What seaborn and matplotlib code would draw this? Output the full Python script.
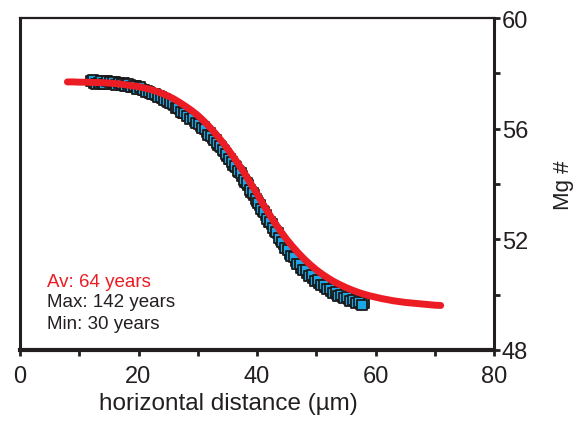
import matplotlib
matplotlib.use("Agg")
import matplotlib.pyplot as plt
import seaborn as sns
import pandas as pd
from matplotlib.ticker import MultipleLocator

# ---- data ----
model_x = [8, 9, 10, 11, 12, 13, 14, 15, 16, 17, 18, 19, 20, 21, 22, 23, 24, 25, 26, 27,
           28, 29, 30, 31, 32, 33, 34, 35, 36, 37, 38, 39, 40, 41, 42, 43, 44, 45, 46, 47,
           48, 49, 50, 51, 52, 53, 54, 55, 56, 57, 58, 59, 60, 61, 62, 63, 64, 65, 66, 67,
           68, 69, 70, 71]
model_y = [57.69, 57.69, 57.68, 57.68, 57.67, 57.67, 57.66, 57.65, 57.63, 57.61, 57.58, 57.55,
           57.52, 57.47, 57.42, 57.35, 57.27, 57.18, 57.07, 56.94, 56.80, 56.65, 56.48, 56.28,
           56.06, 55.82, 55.56, 55.28, 54.99, 54.68, 54.35, 54.00, 53.65, 53.28, 52.93, 52.60,
           52.29, 52.00, 51.74, 51.50, 51.28, 51.08, 50.90, 50.74, 50.60, 50.47, 50.36, 50.26,
           50.17, 50.09, 50.02, 49.96, 49.91, 49.86, 49.82, 49.78, 49.75, 49.72, 49.70, 49.68,
           49.66, 49.64, 49.62, 49.61]

meas_x = [12.0, 12.5, 13.0, 13.5, 14.0, 14.5, 15.0, 15.5, 16.0, 16.5, 17.0, 17.5, 18.0, 18.5,
          19.0, 19.5, 20.0, 20.5, 21.0, 21.5, 22.0, 22.5, 23.0, 23.5, 24.0, 24.5, 25.0, 25.5,
          26.0, 26.5, 27.0, 27.5, 28.0, 28.5, 29.0, 29.5, 30.0, 30.5, 31.0, 31.5, 32.0, 32.5,
          33.0, 33.5, 34.0, 34.5, 35.0, 35.5, 36.0, 36.5, 37.0, 37.5, 38.0, 38.5, 39.0, 39.5,
          40.0, 40.5, 41.0, 41.5, 42.0, 42.5, 43.0, 43.5, 44.0, 44.5, 45.0, 45.5, 46.0, 46.5,
          47.0, 47.5, 48.0, 48.5, 49.0, 49.5, 50.0, 50.5, 51.0, 51.5, 52.0, 52.5, 53.0, 53.5,
          54.0, 54.5, 55.0, 55.5, 56.0, 56.5, 57.0, 57.5, 58.0]
meas_y = [57.72, 57.64, 57.73, 57.69, 57.62, 57.71, 57.66, 57.60, 57.68, 57.63, 57.57, 57.64,
          57.55, 57.59, 57.50, 57.55, 57.47, 57.45, 57.38, 57.36, 57.28, 57.27, 57.20, 57.17,
          57.10, 57.06, 56.98, 56.93, 56.84, 56.78, 56.70, 56.58, 56.55, 56.44, 56.42, 56.27,
          56.25, 56.10, 56.06, 55.88, 55.84, 55.66, 55.60, 55.42, 55.33, 55.18, 55.00, 54.90,
          54.70, 54.62, 54.42, 54.30, 54.08, 53.96, 53.72, 53.60, 53.38, 53.25, 53.02, 52.88,
          52.64, 52.55, 52.30, 52.22, 51.98, 51.82, 51.70, 51.48, 51.42, 51.22, 51.18, 50.98,
          50.96, 50.78, 50.75, 50.60, 50.58, 50.42, 50.40, 50.27, 50.26, 50.12, 50.15, 50.02,
          50.04, 49.92, 49.95, 49.84, 49.86, 49.76, 49.78, 49.68, 49.70]

meas2_x = [12.25, 12.75, 13.25, 13.75, 14.25, 14.75, 15.25, 15.75, 16.25, 16.75, 17.25, 17.75,
           18.25, 18.75, 19.25, 19.75, 20.25, 20.75, 21.25, 21.75, 22.25, 22.75, 23.25, 23.75,
           24.25, 24.75, 25.25, 25.75, 26.25, 26.75, 27.25, 27.75, 28.25, 28.75, 29.25, 29.75,
           30.25, 30.75, 31.25, 31.75, 32.25, 32.75, 33.25, 33.75, 34.25, 34.75, 35.25, 35.75,
           36.25, 36.75, 37.25, 37.75, 38.25, 38.75, 39.25, 39.75, 40.25, 40.75, 41.25, 41.75,
           42.25, 42.75, 43.25, 43.75, 44.25, 44.75, 45.25, 45.75, 46.25, 46.75, 47.25, 47.75,
           48.25, 48.75, 49.25, 49.75, 50.25, 50.75, 51.25, 51.75, 52.25, 52.75, 53.25, 53.75,
           54.25, 54.75, 55.25, 55.75, 56.25, 56.75, 57.25, 57.75]
meas2_y = [57.75, 57.62, 57.66, 57.74, 57.60, 57.72, 57.67, 57.70, 57.58, 57.65, 57.62, 57.53,
           57.60, 57.52, 57.56, 57.45, 57.50, 57.40, 57.33, 57.34, 57.24, 57.25, 57.15, 57.13,
           57.05, 57.00, 56.92, 56.88, 56.76, 56.74, 56.60, 56.55, 56.46, 56.35, 56.38, 56.20,
           56.18, 56.02, 55.98, 55.78, 55.72, 55.58, 55.50, 55.36, 55.22, 55.10, 54.92, 54.78,
           54.64, 54.48, 54.38, 54.15, 54.04, 53.80, 53.68, 53.45, 53.33, 53.10, 52.98, 52.72,
           52.62, 52.40, 52.28, 52.05, 51.92, 51.70, 51.62, 51.38, 51.35, 51.12, 51.10, 50.88,
           50.90, 50.68, 50.70, 50.50, 50.52, 50.34, 50.36, 50.20, 50.22, 50.06, 50.10, 49.96,
           50.00, 49.88, 49.90, 49.78, 49.82, 49.70, 49.74, 49.64]

annot_lines = ["Av: 64 years", "Max: 142 years", "Min: 30 years"]
x_ticks = [0, 20, 40, 60, 80]
y_ticks = [48, 52, 56, 60]
x_label = "horizontal distance (\u00b5m)"
y_label = "Mg #"

# ---- style ----
sns.set_style("ticks")
plt.rcParams["font.family"] = ["Liberation Sans", "DejaVu Sans"]
TXT = "#231f20"
RED = "#ec1c24"
BLUE = "#1aa7e4"

fig = plt.figure(figsize=(5.81, 4.27), dpi=100)
ax = fig.add_axes([20 / 581, 1 - 351 / 427, (494 - 20) / 581, (351 - 19) / 427])

meas = pd.concat([pd.DataFrame({"x": meas_x, "y": meas_y}),
                  pd.DataFrame({"x": meas2_x, "y": meas2_y})], ignore_index=True)
model = pd.DataFrame({"x": model_x, "y": model_y})

sns.scatterplot(data=meas, x="x", y="y", marker="s", s=42, color=BLUE,
                edgecolor="#1a1a1a", linewidth=1.3, ax=ax, zorder=2)
sns.lineplot(data=model, x="x", y="y", color=RED, linewidth=5.0, ax=ax,
             solid_capstyle="round", zorder=3, sort=False)

ax.set_xlim(0, 80)
ax.set_ylim(48, 60)
ax.set_xticks(x_ticks)
ax.set_yticks(y_ticks)
ax.xaxis.set_minor_locator(MultipleLocator(10))
ax.yaxis.set_minor_locator(MultipleLocator(2))

ax.yaxis.tick_right()
ax.yaxis.set_label_position("right")

for side, lw in [("bottom", 3.0), ("left", 2.2), ("right", 2.2), ("top", 1.6)]:
    ax.spines[side].set_visible(True)
    ax.spines[side].set_linewidth(lw)
    ax.spines[side].set_color(TXT)

ax.tick_params(axis="both", which="both", direction="out", length=4.5, width=2.0,
               color=TXT, labelsize=17, labelcolor=TXT)
ax.tick_params(axis="x", which="both", pad=6)
ax.tick_params(axis="y", which="both", left=False, right=True, pad=1)

ax.set_xlabel(x_label, fontsize=17.5, color=TXT, labelpad=4)
ax.xaxis.label.set_x((228 - 20) / 474)
ax.set_ylabel(y_label, fontsize=16, color=TXT, labelpad=18)

colors = [RED, TXT, TXT]
ys = [283, 303, 325]
for t, c, yp in zip(annot_lines, colors, ys):
    ax.text(47 / 581, 1 - yp / 427, t, transform=fig.transFigure, color=c,
            fontsize=13.5, va="center", ha="left")

fig.savefig("out.png", dpi=100)
